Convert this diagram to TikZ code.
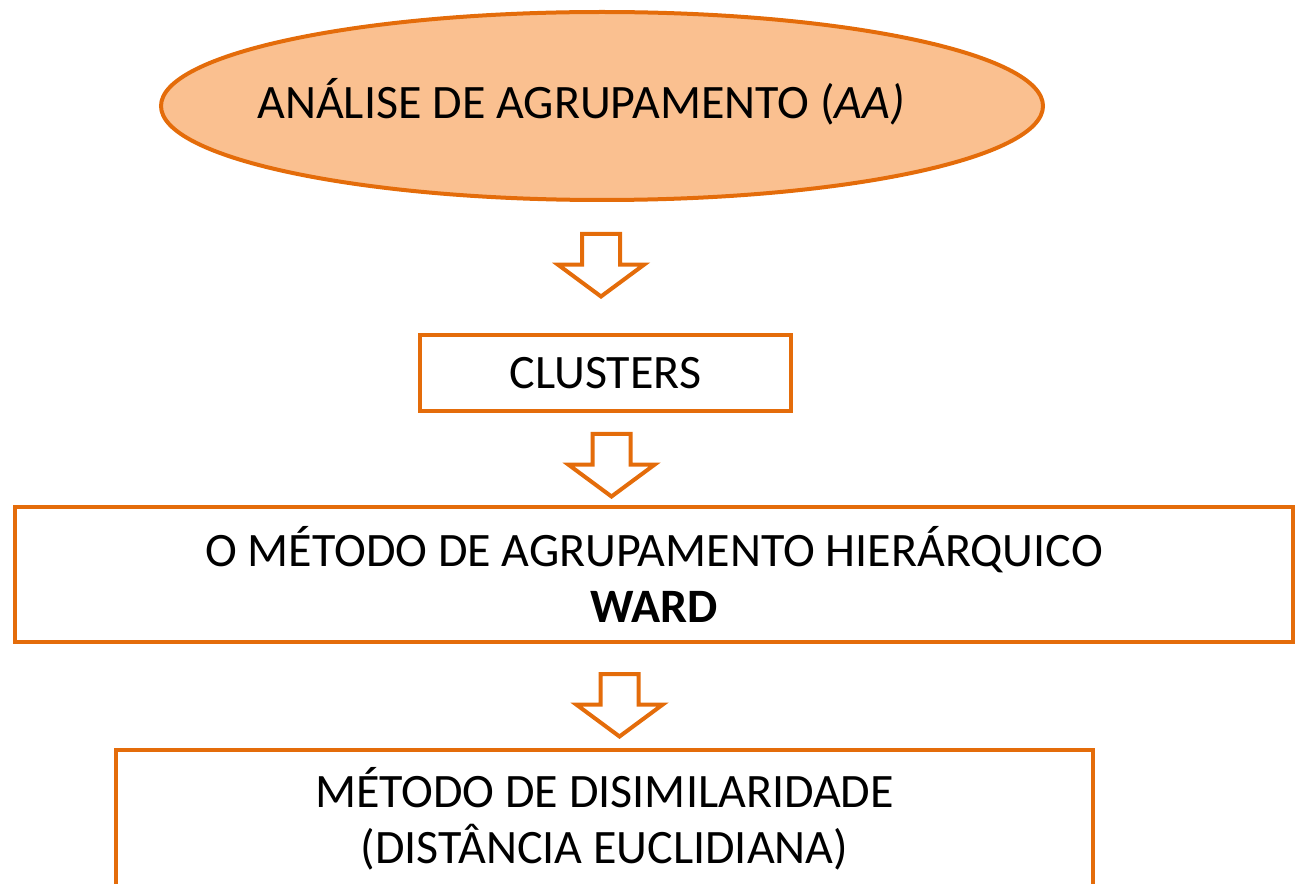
\documentclass[tikz,border=0pt]{standalone}
\usepackage{fontspec}
\setmainfont{Carlito}
\usetikzlibrary{shapes.geometric}
\definecolor{laranja}{HTML}{E46C0A}
\definecolor{pessego}{HTML}{FAC090}
\begin{document}
\begin{tikzpicture}[x=0.75pt,y=-0.75pt,
    font=\fontsize{36pt}{42pt}\selectfont,
    box/.style={draw=laranja,line width=3pt,rectangle,inner sep=0pt,align=center},
    seta/.style={draw=laranja,line width=3pt}]
  \clip (0,0) rectangle (1297,884);
  \node[ellipse,draw=laranja,fill=pessego,line width=3pt,minimum width=661.5pt,minimum height=141pt,inner sep=0pt] (aa) at (602,106) {};
  \node (aatxt) at (581,102) {ANÁLISE DE AGRUPAMENTO (\textit{AA)}};
  \node[box,minimum width=278.25pt,minimum height=57pt] (clusters) at (605.5,373) {CLUSTERS};
  \node[box,minimum width=958.5pt,minimum height=101.25pt] (ward) at (654,574.5)
    {O MÉTODO DE AGRUPAMENTO HIERÁRQUICO\\\textbf{WARD}};
  \node[box,minimum width=732.75pt,minimum height=103.5pt] (disim) at (604.5,819)
    {MÉTODO DE DISIMILARIDADE\\(DISTÂNCIA EUCLIDIANA)};
  \foreach \X/\Y in {601/234,611.5/434,619.5/674}
    \draw[seta] (\X-19,\Y) -- (\X+19,\Y) -- (\X+19,\Y+30.7) -- (\X+43,\Y+30.7)
      -- (\X,\Y+62.5) -- (\X-43,\Y+30.7) -- (\X-19,\Y+30.7) -- cycle;
\end{tikzpicture}
\end{document}
